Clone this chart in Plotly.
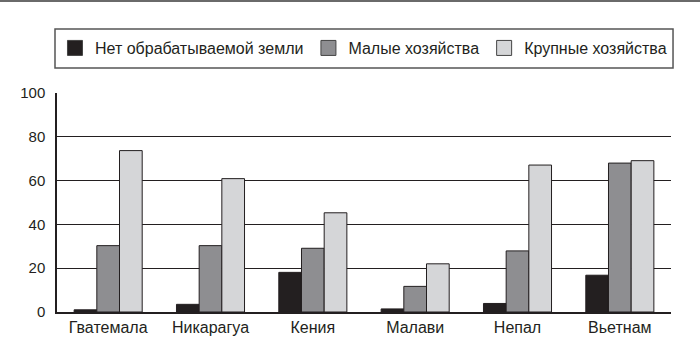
import plotly.graph_objects as go

categories = ["Гватемала", "Никарагуа", "Кения", "Малави", "Непал", "Вьетнам"]
no_land = [1.0, 3.5, 18.1, 1.4, 3.9, 16.8]
small_farms = [30.3, 30.3, 29.1, 11.7, 27.9, 68.0]
large_farms = [73.7, 60.9, 45.3, 22.0, 67.1, 69.1]
series_names = ["Нет обрабатываемой земли", "Малые хозяйства", "Крупные хозяйства"]
y_ticks = [0, 20, 40, 60, 80, 100]

colors = ["#231f20", "#8e8e91", "#d5d6d8"]
font_family = "Liberation Sans, Arial, sans-serif"

fig = go.Figure()
for name, vals, col in zip(series_names, [no_land, small_farms, large_farms], colors):
    fig.add_trace(go.Bar(
        x=categories, y=vals, name=name, showlegend=False,
        marker=dict(color=col, line=dict(color="#231f20", width=1)),
    ))
# legend entries with larger square symbols
for name, col in zip(series_names, colors):
    fig.add_trace(go.Scatter(
        x=[None], y=[None], mode="markers", name=name,
        marker=dict(symbol="square", size=15, color=col,
                    line=dict(color="#444444", width=1)),
    ))

fig.update_layout(
    width=700, height=351,
    margin=dict(l=57, r=29, t=93, b=39),
    paper_bgcolor="white", plot_bgcolor="white",
    barmode="group", bargap=0.335, bargroupgap=0,
    font=dict(family=font_family, size=15, color="#231f20"),
    showlegend=True,
    legend=dict(
        orientation="h", x=-0.0033, y=1.283, xanchor="left", yanchor="top",
        borderwidth=0, bgcolor="rgba(0,0,0,0)",
        font=dict(size=16, family=font_family, color="#231f20"),
        itemwidth=30, tracegroupgap=0,
    ),
    shapes=[
        dict(type="line", xref="paper", yref="paper",
             x0=-0.1, x1=1.1, y0=1 + 92/219, y1=1 + 92/219,
             line=dict(color="#6a6a6a", width=2)),
        dict(type="rect", xref="paper", yref="paper",
             x0=-0.00326, x1=1.0033, y0=1.1142, y1=1.2922,
             line=dict(color="#555555", width=1.5), fillcolor="rgba(0,0,0,0)"),
    ],
)
fig.update_xaxes(
    showline=True, linecolor="#231f20", linewidth=1.5,
    ticks="", showgrid=False, tickfont=dict(size=16),
)
fig.update_yaxes(
    range=[0, 100], tickvals=y_ticks, showgrid=True, gridcolor="#231f20", gridwidth=1,
    showline=True, linecolor="#231f20", linewidth=1.5, ticks="",
    ticklabelstandoff=7, zeroline=False, tickfont=dict(size=15),
)

fig.write_html("out.html")
